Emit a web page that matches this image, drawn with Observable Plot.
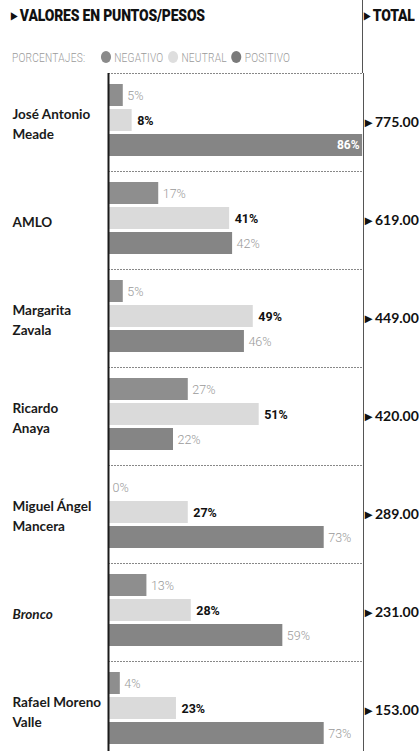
<!DOCTYPE html>
<html>
<head>
<meta charset="utf-8">
<script src="https://cdn.jsdelivr.net/npm/d3@7"></script>
<script src="https://cdn.jsdelivr.net/npm/@observablehq/plot@0.6"></script>
<style>
  html, body { margin: 0; padding: 0; background: #fff; }
  body { width: 419px; overflow: hidden; font-family: Roboto, sans-serif; }
  #header { position: relative; height: 73px; display: flex; }
  #hleft { width: 363px; box-sizing: border-box; border-right: 1px solid #555; position: relative; }
  #hright { flex: 1; position: relative; }
  .ttl { font-family: Roboto, sans-serif; font-weight: 900; font-size: 17px; color: #111; white-space: nowrap; position: absolute; top: 5px; left: 11px; letter-spacing: -0.2px; transform: scaleX(0.82); transform-origin: left center; }
  .ttl .tri { font-size: 10px; vertical-align: 2px; margin-right: 3px; }
  #hright .ttl { left: 1px; }
  #legend { position: absolute; left: 12px; top: 50px; font-family: Roboto, sans-serif; font-weight: 300; font-size: 13px; color: #9a9a9a; white-space: nowrap; letter-spacing: 0.3px; transform: scaleX(0.78); transform-origin: left center; }
  #legend .dot { display: inline-block; width: 13px; height: 12px; border-radius: 50%; vertical-align: -1px; margin-right: 4px; }
  #legend .item { margin-right: 6px; }
</style>
</head>
<body>
<div id="header">
  <div id="hleft">
    <div class="ttl"><span class="tri">▶</span>VALORES EN PUNTOS/PESOS</div>
    <div id="legend"></div>
  </div>
  <div id="hright"><div class="ttl"><span class="tri">▶</span>TOTAL</div></div>
</div>
<div id="chart"></div>
<script>
const candidates = ["José Antonio Meade", "AMLO", "Margarita Zavala", "Ricardo Anaya", "Miguel Ángel Mancera", "Bronco", "Rafael Moreno Valle"];
const candidateLabels = ["José Antonio\nMeade", "AMLO", "Margarita\nZavala", "Ricardo\nAnaya", "Miguel Ángel\nMancera", "Bronco", "Rafael Moreno\nValle"];
const negativo = [5, 17, 5, 27, 0, 13, 4];
const neutral = [8, 41, 49, 51, 27, 28, 23];
const positivo = [86, 42, 46, 22, 73, 59, 73];
const totals = ["775.00", "619.00", "449.00", "420.00", "289.00", "231.00", "153.00"];
const categories = ["NEGATIVO", "NEUTRAL", "POSITIVO"];
const barColors = ["#8e8e8e", "#dadada", "#858585"];
const legendColors = ["#8a8a8a", "#dedede", "#7a7a7a"];

// legend
const legend = document.getElementById("legend");
legend.innerHTML = `<span class="item" style="margin-right:20px">PORCENTAJES:</span>` +
  categories.map((c, i) => `<span class="dot" style="background:${legendColors[i]}"></span><span class="item">${c}</span>`).join("");

const rows = [];
candidates.forEach((c, i) => {
  [negativo, neutral, positivo].forEach((arr, j) => {
    rows.push({candidate: c, category: categories[j], value: arr[i]});
  });
});
const totalRows = candidates.map((c, i) => ({candidate: c, total: totals[i]}));
const labelOf = new Map(candidates.map((c, i) => [c, candidateLabels[i]]));

const extend = (index, scales, values, dims, context, next) => {
  const g = next(index, scales, values, dims, context);
  d3.select(g).selectAll("line").attr("x1", 0).attr("x2", dims.width);
  return g;
};

const chart = Plot.plot({
  width: 419,
  height: 686,
  marginLeft: 108,
  marginRight: 56,
  marginTop: 0,
  marginBottom: 0,
  x: {domain: [0, 86.3], axis: null},
  y: {domain: categories, axis: null, paddingInner: 0.115, paddingOuter: 0, insetTop: 10, insetBottom: 13},
  fy: {domain: candidates, padding: 0, label: null},
  color: {domain: categories, range: barColors},
  marks: [
    Plot.frame({anchor: "top", stroke: "#888", strokeDasharray: "1,2", strokeWidth: 1, render: extend}),
    Plot.barX(rows, {fy: "candidate", y: "category", x: "value", fill: "category"}),
    Plot.frame({anchor: "right", stroke: "#555", strokeWidth: 1}),
    Plot.ruleX([0], {stroke: "#1a1a1a", strokeWidth: 2}),
    Plot.text(rows.filter(d => d.category !== "NEUTRAL" && d.value < 80), {
      fy: "candidate", y: "category", x: "value", text: d => d.value + "%",
      textAnchor: "start", dx: 4, fill: "#9a9a9a", fontSize: 12.5, fontWeight: 300, fontFamily: "Roboto"
    }),
    Plot.text(rows.filter(d => d.category !== "NEUTRAL" && d.value >= 80), {
      fy: "candidate", y: "category", x: "value", text: d => d.value + "%",
      textAnchor: "end", dx: -3, fill: "#fff", fontSize: 12, fontWeight: 700, fontFamily: "Roboto"
    }),
    Plot.text(rows.filter(d => d.category === "NEUTRAL"), {
      fy: "candidate", y: "category", x: "value", text: d => d.value + "%",
      textAnchor: "start", dx: 5, fill: "#111", fontSize: 12.5, fontWeight: 700, fontFamily: "Roboto"
    }),
    Plot.text(totalRows, {
      fy: "candidate", frameAnchor: "right", textAnchor: "start", dx: 1,
      text: d => "▸ " + d.total, fill: "#111", fontSize: 14, fontWeight: 700, fontFamily: "Lato"
    }),
    Plot.axisFy({
      anchor: "left", tickSize: 0, tickPadding: 96, textAnchor: "start", label: null,
      tickFormat: d => labelOf.get(d), fontSize: 13.5, fontWeight: 700, fontFamily: "Lato",
      fill: "#1a1a1a", lineHeight: 1.45
    })
  ]
});
d3.select(chart).selectAll("text").filter(function() { return this.textContent === "Bronco"; }).style("font-style", "italic");
document.getElementById("chart").appendChild(chart);
</script>
</body>
</html>
